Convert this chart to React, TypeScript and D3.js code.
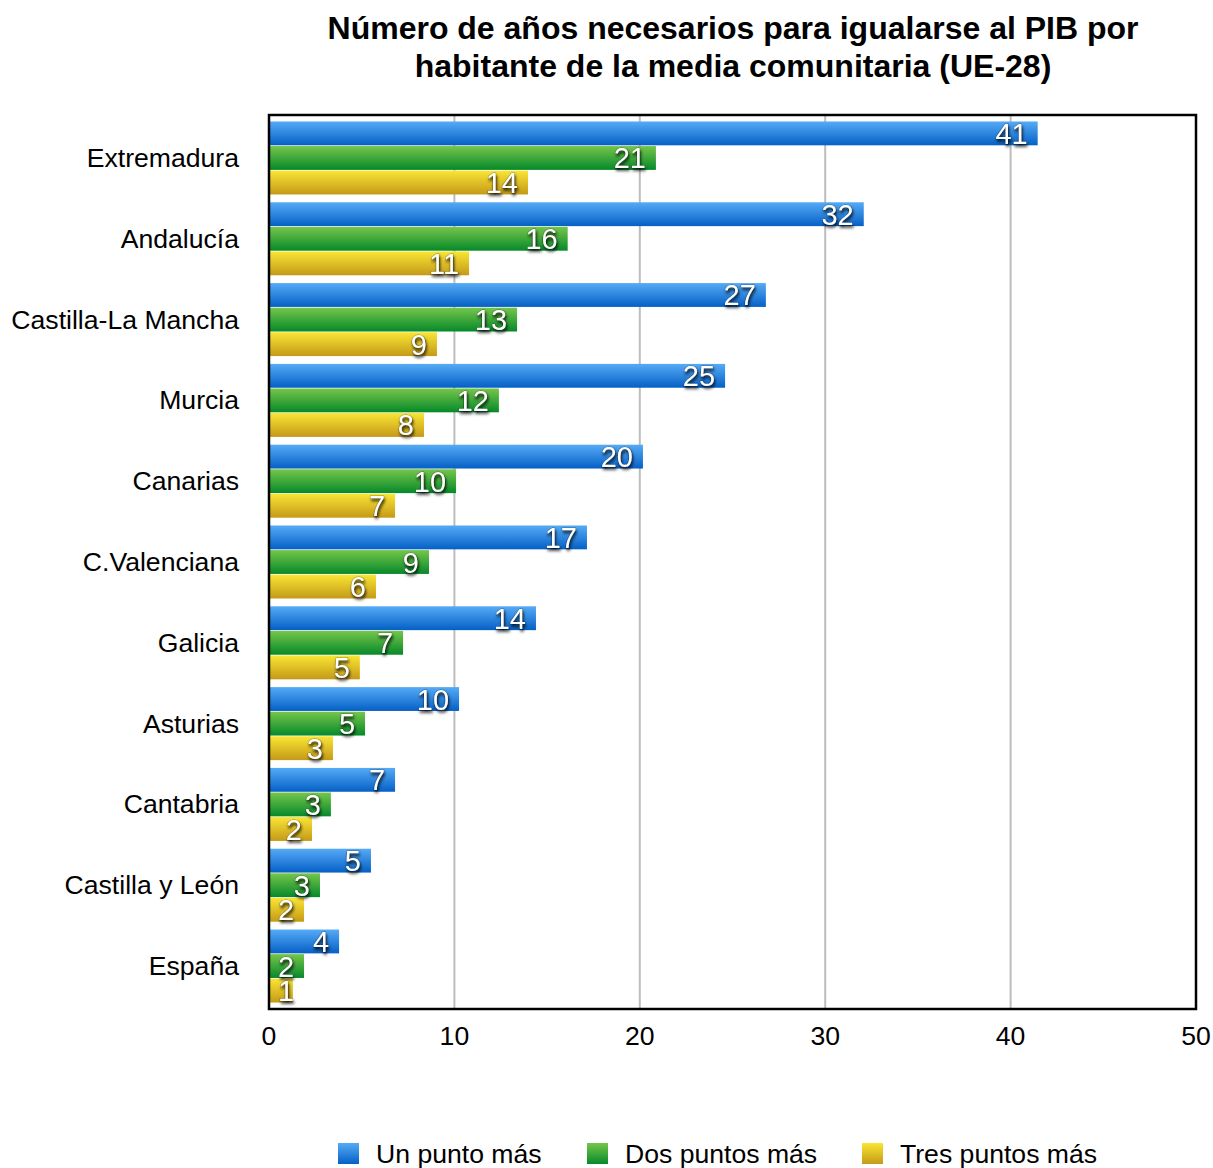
import React, { useEffect } from 'react';
import * as d3 from 'd3';

const titleLines = [
  'Número de años necesarios para igualarse al PIB por',
  'habitante de la media comunitaria (UE-28)',
];
const categories = [
  'Extremadura', 'Andalucía', 'Castilla-La Mancha', 'Murcia', 'Canarias',
  'C.Valenciana', 'Galicia', 'Asturias', 'Cantabria', 'Castilla y León', 'España',
];
const seriesNames = ['Un punto más', 'Dos puntos más', 'Tres puntos más'];
const unPunto = [41.46, 32.08, 26.8, 24.6, 20.17, 17.15, 14.4, 10.25, 6.8, 5.5, 3.78];
const dosPuntos = [20.87, 16.11, 13.38, 12.4, 10.09, 8.63, 7.23, 5.18, 3.34, 2.75, 1.89];
const tresPuntos = [13.97, 10.79, 9.06, 8.36, 6.8, 5.77, 4.9, 3.45, 2.32, 1.89, 1.29];
const unLabels = [41, 32, 27, 25, 20, 17, 14, 10, 7, 5, 4];
const dosLabels = [21, 16, 13, 12, 10, 9, 7, 5, 3, 3, 2];
const tresLabels = [14, 11, 9, 8, 7, 6, 5, 3, 2, 2, 1];
const xTicks = [0, 10, 20, 30, 40, 50];

const gradients = [
  { id: 'gBlue', top: '#56abf6', bottom: '#0560c6' },
  { id: 'gGreen', top: '#76c64b', bottom: '#06892a' },
  { id: 'gYellow', top: '#fae534', bottom: '#c49a18' },
];

const W = 1213;
const H = 1168;
const FONT = '"Liberation Sans", Arial, Helvetica, sans-serif';
const TEXT_SIZE = 26.6;

export default function App() {
  useEffect(() => {
    document.body.style.margin = '0';
  }, []);

  const x = d3.scaleLinear().domain([0, 50]).range([269, 1196]);
  const y0 = d3.scaleBand<string>().domain(categories).range([115, 1009]).paddingInner(0.0965).paddingOuter(0.08);
  const y1 = d3.scaleBand<string>().domain(seriesNames).range([0, y0.bandwidth()]).paddingInner(0.03);

  const values = [unPunto, dosPuntos, tresPuntos];
  const labels = [unLabels, dosLabels, tresLabels];
  const labelSize = 29;

  const plotTop = 115;
  const plotBottom = 1009;

  return (
    <svg width={W} height={H} style={{ display: 'block' }} fontFamily={FONT}>
      <defs>
        {gradients.map((g) => (
          <linearGradient key={g.id} id={g.id} x1="0" y1="0" x2="0" y2="1">
            <stop offset="0%" stopColor={g.top} />
            <stop offset="100%" stopColor={g.bottom} />
          </linearGradient>
        ))}
        <filter id="lblShadow" x="-30%" y="-30%" width="160%" height="180%">
          <feDropShadow dx="1" dy="2.5" stdDeviation="1.6" floodColor="#000" floodOpacity="0.85" />
        </filter>
      </defs>
      <rect x={0} y={0} width={W} height={H} fill="#fff" />

      {/* Title */}
      {titleLines.map((t, i) => (
        <text key={i} x={733} y={39 + i * 38} textAnchor="middle" fontSize={32} fontWeight="bold" fill="#000">
          {t}
        </text>
      ))}

      {/* Gridlines */}
      {xTicks.slice(1, -1).map((t) => (
        <line key={t} x1={x(t)} x2={x(t)} y1={plotTop} y2={plotBottom} stroke="#bdbdbd" strokeWidth={2} />
      ))}

      {/* Bars */}
      {categories.map((c, ci) => (
        <g key={c} transform={`translate(0,${y0(c)})`}>
          {seriesNames.map((s, si) => (
            <rect
              key={s}
              x={x(0) + 1}
              y={y1(s)}
              width={x(values[si][ci]) - x(0) - 1}
              height={y1.bandwidth()}
              fill={`url(#${gradients[si].id})`}
            />
          ))}
        </g>
      ))}

      {/* Value labels */}
      {categories.map((c, ci) =>
        seriesNames.map((s, si) => {
          const txt = String(labels[si][ci]);
          const tw = txt.length * 0.556 * labelSize;
          const end = Math.max(x(values[si][ci]) - 10, 278 + tw);
          const cy = (y0(c) as number) + (y1(s) as number) + y1.bandwidth() / 2;
          return (
            <text
              key={`${c}-${s}`}
              x={end}
              y={cy + 10.5}
              textAnchor="end"
              fontSize={labelSize}
              fill="#fff"
              stroke="rgba(0,0,0,0.35)"
              strokeWidth={1}
              paintOrder="stroke"
              filter="url(#lblShadow)"
            >
              {txt}
            </text>
          );
        })
      )}

      {/* Plot border */}
      <rect x={269} y={plotTop} width={1196 - 269} height={plotBottom - plotTop} fill="none" stroke="#000" strokeWidth={2.5} />

      {/* Category labels */}
      {categories.map((c) => (
        <text key={c} x={239} y={(y0(c) as number) + y0.bandwidth() / 2 + 9} textAnchor="end" fontSize={TEXT_SIZE} fill="#000">
          {c}
        </text>
      ))}

      {/* X tick labels */}
      {xTicks.map((t) => (
        <text key={t} x={x(t)} y={1045} textAnchor="middle" fontSize={TEXT_SIZE} fill="#000">
          {t}
        </text>
      ))}

      {/* Legend */}
      {seriesNames.map((s, i) => {
        const lx = [338, 587, 862][i];
        return (
          <g key={s}>
            <rect x={lx} y={1143} width={21} height={21} fill={`url(#${gradients[i].id})`} />
            <text x={lx + 38} y={1163} fontSize={TEXT_SIZE} fill="#000">
              {s}
            </text>
          </g>
        );
      })}
    </svg>
  );
}
